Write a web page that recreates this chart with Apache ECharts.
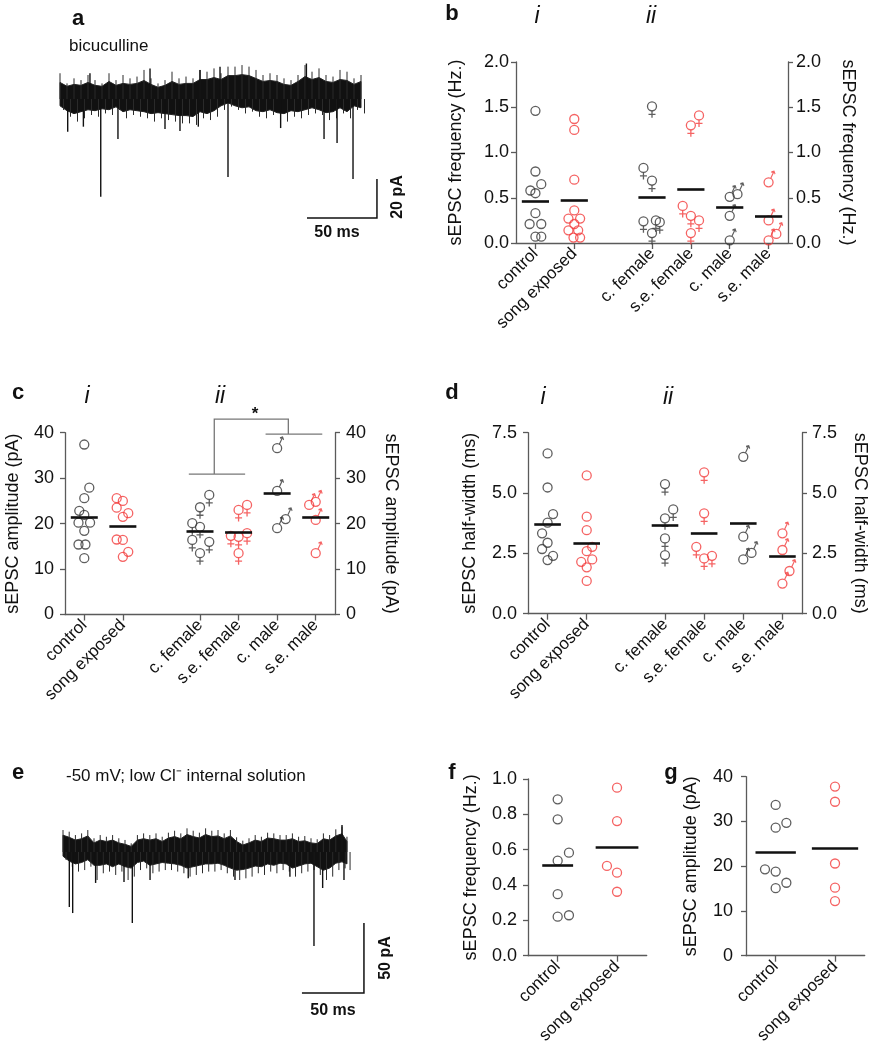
<!DOCTYPE html>
<html><head><meta charset="utf-8">
<script src="https://cdn.jsdelivr.net/npm/echarts@6/dist/echarts.min.js"></script>
<style>html,body{margin:0;padding:0;background:#fff}#c{width:869px;height:1050px}</style>
</head><body><div id="c"></div>
<script>
// ================= DATA =================
const catsII = ['control', 'song exposed', '', 'c. female', 's.e. female', 'c. male', 's.e. male'];
const catsI = ['control', 'song exposed'];

// panel b : sEPSC frequency (Hz.)
const bCtrl = [1.46, 0.79, 0.65, 0.58, 0.55, 0.33, 0.21, 0.21, 0.07, 0.07];
const bCtrlJ = [0, 0, 0.15, -0.13, 0, 0, -0.15, 0.15, 0, 0.15];
const bSong = [1.37, 1.25, 0.70, 0.36, 0.27, 0.27, 0.21, 0.14, 0.14, 0.06, 0.06];
const bSongJ = [0, 0, 0, 0, -0.15, 0.15, 0, -0.15, 0.1, -0.02, 0.15];
const bCF = [1.51, 0.83, 0.69, 0.24, 0.25, 0.23, 0.11];
const bCFJ = [0, -0.22, 0, -0.22, 0.1, 0.2, 0];
const bSF = [1.41, 1.30, 0.41, 0.30, 0.25, 0.11];
const bSFJ = [0.21, 0, -0.21, 0, 0.21, 0];
const bCM = [0.51, 0.54, 0.30, 0.03];
const bCMJ = [0, 0.2, 0, 0];
const bSM = [0.67, 0.25, 0.10, 0.03];
const bSMJ = [0, 0, 0.2, 0];
const bMean = [0.46, 0.47, null, 0.51, 0.59, 0.39, 0.30];

// panel c : sEPSC amplitude (pA)
const cCtrl = [37.4, 27.9, 25.6, 22.8, 21.9, 20.2, 20.2, 18.4, 15.4, 15.4, 12.4];
const cCtrlJ = [0, 0.13, 0, -0.13, 0, -0.15, 0.15, 0, -0.15, 0.03, 0];
const cSong = [25.6, 25.0, 23.5, 22.3, 21.5, 16.5, 16.4, 13.8, 12.7];
const cSongJ = [-0.16, 0, -0.16, 0.14, 0, -0.16, 0, 0.14, 0];
const cCF = [26.3, 23.6, 20.1, 19.3, 16.4, 16.0, 13.5];
const cCFJ = [0.24, 0, -0.2, 0, -0.2, 0.24, 0];
const cSF = [24.1, 23.0, 17.9, 17.3, 17.1, 13.5];
const cSFJ = [0.22, 0, 0.22, -0.2, 0, 0];
const cCM = [36.6, 27.2, 21.0, 19.0];
const cCMJ = [0, 0, 0.22, 0];
const cSM = [24.8, 24.1, 20.8, 13.5];
const cSMJ = [0, -0.17, 0, 0];
const cMean = [21.5, 19.5, null, 18.4, 18.1, 26.7, 21.5];
// significance bracket (category index, pA)
const cBracket = [
  [[2.71, 30.9], [4.17, 30.9]],
  [[3.37, 30.9], [3.37, 43.0], [5.29, 43.0], [5.29, 39.7]],
  [[4.70, 39.7], [6.17, 39.7]]
];

// panel d : sEPSC half-width (ms)
const dCtrl = [6.64, 5.23, 4.13, 3.77, 3.33, 2.94, 2.68, 2.40, 2.22];
const dCtrlJ = [0, 0, 0.14, 0, -0.14, 0, -0.14, 0.14, 0];
const dSong = [5.73, 4.02, 3.46, 2.77, 2.59, 2.25, 2.15, 1.92, 1.36];
const dSongJ = [0, 0, 0, 0.14, 0, 0.14, -0.14, 0, 0];
const dCF = [5.37, 4.32, 3.95, 3.12, 2.43];
const dCFJ = [0, 0.21, 0, 0, 0];
const dSF = [5.86, 4.16, 2.77, 2.40, 2.29];
const dSFJ = [0, 0, -0.2, 0.2, 0];
const dCM = [6.50, 3.19, 2.52, 2.25];
const dCMJ = [0, 0, 0.21, 0];
const dSM = [3.33, 2.64, 1.77, 1.25];
const dSMJ = [0, 0, 0.18, 0];
const dMean = [3.70, 2.91, null, 3.67, 3.35, 3.74, 2.39];

// panel f : sEPSC frequency (Hz.)
const fCtrl = [0.885, 0.772, 0.583, 0.538, 0.348, 0.229, 0.221];
const fCtrlJ = [0, 0, 0.19, 0, 0, 0.19, 0];
const fSong = [0.951, 0.762, 0.508, 0.470, 0.362];
const fSongJ = [0, 0, -0.17, 0, 0];
const fMean = [0.512, 0.611];

// panel g : sEPSC amplitude (pA)
const gCtrl = [33.7, 29.7, 28.6, 19.3, 18.8, 16.3, 15.1];
const gCtrlJ = [0, 0.18, 0, -0.18, 0, 0.18, 0];
const gSong = [37.8, 34.4, 20.6, 15.2, 12.2];
const gSongJ = [0, 0, 0, 0, 0];
const gMean = [23.2, 24.0];

// trace a (bicuculline): time (ms), dense core edges & outer extremes (pA), events [ms, pA]
const aT = [0, 5, 10, 15, 20, 25, 30, 35, 40, 45, 50, 55, 60, 65, 70, 75, 80, 85, 90, 95, 100, 105,
  110, 115, 120, 125, 130, 135, 140, 145, 150, 155, 160, 165, 170, 175, 180, 185, 190, 195, 200, 205, 210, 215];
const aHiC = [8.5, 6.5, 7.5, 7, 8.5, 7, 6.5, 9, 7, 8, 7.5, 8, 9.5, 7.5, 6, 7, 9, 7.5, 8, 8, 10, 10,
  11, 10, 12, 12, 12.5, 12, 10.5, 9, 9.5, 9, 7.5, 7, 9, 11.5, 10, 11, 9, 8.5, 10, 9.5, 7.5, 9];
const aLoC = [-3.5, -6, -7.5, -6.5, -5.5, -6, -5, -5.5, -4, -6.5, -5.5, -6, -6.5, -7.5, -7, -7.5, -8, -8.5, -8.5, -9, -6.5, -7.5,
  -6, -3.5, -2, -3.5, -4.5, -4, -6, -6.5, -5.5, -7, -7.5, -6, -6.5, -5.5, -4.5, -5.5, -7, -6.5, -4.5, -6.5, -3.5, -4.5];
const aHiX = [13.2, 8.0, 10.6, 9.7, 12.3, 9.7, 8.0, 13.2, 9.7, 12.3, 10.6, 11.5, 14.9, 10.6, 8.0, 9.7, 14.0, 10.6, 11.5, 10.6, 14.9, 14.0,
  15.7, 13.2, 16.6, 16.6, 17.4, 16.6, 14.9, 12.3, 13.2, 12.3, 10.6, 9.7, 12.3, 17.4, 14.0, 15.7, 12.3, 11.5, 14.9, 14.0, 10.6, 12.3];
const aLoX = [-5.6, -9.1, -11.6, -9.9, -8.2, -9.1, -7.4, -8.2, -5.6, -9.9, -8.2, -9.1, -9.9, -11.6, -9.9, -10.8, -11.6, -12.5, -12.5, -13.3, -9.9, -10.8,
  -9.1, -5.6, -3.9, -5.6, -7.4, -6.5, -9.1, -9.9, -8.2, -10.8, -11.6, -9.1, -9.9, -8.2, -7.4, -8.2, -10.8, -9.9, -7.4, -9.9, -5.6, -7.4];
const aEvents = [[5.5, -16.8], [16.7, -14.2], [29.1, -50.1], [41.4, -20.5], [75, -15.4], [85.7, -16.4], [98.8, -14.2],
  [120, -40.0], [157.6, -14.9], [188.6, -20.5], [197.9, -22.6], [209.3, -41.0],
  [21.4, 13.2], [64.3, 15.7], [100, 14.9], [114.3, 16.6], [176, 18.2]];

// trace e (-50 mV, low Cl- internal)
const eT = [0, 5, 10, 15, 20, 25, 30, 35, 40, 45, 50, 55, 60, 65, 70, 75, 80, 85, 90, 95, 100, 105, 110,
  115, 120, 125, 130, 135, 140, 145, 150, 155, 160, 165, 170, 175, 180, 185, 190, 195, 200, 205, 210, 215, 220, 225, 229];
const eHiC = [12, 10.5, 8.5, 9.5, 11.5, 6.5, 8.5, 7.5, 8.5, 6.5, 5.5, 4, 8.5, 9.5, 8.5, 9.5, 7.5, 10, 11, 9.5, 12.5, 11, 10,
  12.5, 11, 11.5, 9.5, 11.5, 7.5, 5, 6.5, 8.5, 7.5, 10, 9.5, 8.5, 8.5, 9.5, 7.5, 8, 6.5, 6, 9.5, 8.5, 11.5, 13, 7.5];
const eLoC = [-3, -6.5, -8.5, -7.5, -5.5, -9.5, -9.5, -8.5, -10.5, -8.5, -10.5, -11.5, -7.5, -6.5, -9.5, -8.5, -7.5, -8, -8.5, -9.5, -11.5, -10.5, -9.5,
  -8.5, -8.5, -8, -9.5, -11.5, -13, -12.5, -11.5, -10, -10.5, -8.5, -9.5, -8, -8.5, -11.5, -10, -8.5, -8, -10.5, -13, -11.5, -8, -7, -8.5];
const eHiX = [15.7, 14.5, 12.1, 13.3, 15.7, 9.8, 12.1, 10.9, 12.1, 9.8, 8.6, 6.2, 12.1, 13.3, 12.1, 13.3, 10.9, 13.8, 15.2, 13.3, 16.9, 15.2, 13.8,
  16.9, 15.2, 15.7, 13.3, 15.7, 10.5, 8.1, 9.8, 12.1, 10.9, 13.8, 13.3, 12.1, 12.1, 13.3, 10.9, 11.4, 9.8, 9.1, 13.3, 12.1, 16.2, 18.1, 10.9];
const eLoX = [-5.7, -10.5, -14.0, -12.9, -10.5, -20.0, -15.2, -14.0, -16.4, -14.0, -20.0, -17.6, -12.9, -11.7, -15.2, -14.0, -12.9, -12.9, -14.0, -15.2, -17.6, -16.4, -15.2,
  -14.0, -14.0, -12.9, -15.2, -17.6, -20.0, -18.8, -17.6, -15.2, -16.4, -14.0, -15.2, -12.9, -14.0, -17.6, -15.2, -14.0, -12.9, -16.4, -20.0, -17.6, -12.9, -11.7, -12.9];
const eEvents = [[5.1, -39.3], [7.8, -43.6], [26.3, -22.1], [49.2, -21.4], [55.9, -50.7], [70.2, -20], [101, -18.8],
  [138.7, -20], [183, -17.6], [202.4, -67.1], [209.4, -25.7], [226.6, -20.0], [225, 19.3]];

// scale bars (data units: ms, pA)
const aBar = { t: 176.4, y: -61, ms: 50, pA: 20 };
const eBar = { t: 192.7, y: -100.7, ms: 50, pA: 50 };

// ================= STYLE / HELPERS =================
const FF = 'Arial, "Liberation Sans", sans-serif';
const AX = '#5a5a5a';
const K = '#363636', R = '#f23c3c';
// sex glyph attachments (drawn on top of a circle marker)
const FEM = 'path://M0,0L0,7M-3.5,3.5L3.5,3.5';
const MAL = 'path://M2.2,-4L5.5,-11M2.8,-10.2L5.5,-11L6.5,-8.2';

const grids = [
  { left: 60, top: 60, width: 319.2, height: 179.4 },     // 0 trace a
  { left: 516, top: 62, width: 272, height: 181 },        // 1 b
  { left: 65, top: 432.7, width: 270, height: 181.8 },    // 2 c
  { left: 528, top: 432.7, width: 274, height: 181 },     // 3 d
  { left: 63, top: 824, width: 303.8, height: 182 },      // 4 trace e
  { left: 528, top: 779, width: 118.7, height: 176.7 },   // 5 f
  { left: 746, top: 776.7, width: 118.7, height: 179 }    // 6 g
].map(g => Object.assign({ outerBoundsMode: 'none', containLabel: false }, g));

function catAxis(grid, cats) {
  return {
    type: 'category', gridIndex: grid, data: cats, boundaryGap: true, position: 'bottom',
    axisLine: { show: true, onZero: false, lineStyle: { color: AX, width: 1.3 } },
    axisTick: { show: true, alignWithLabel: true, length: 6, interval: (i, v) => v !== '', lineStyle: { color: AX, width: 1.3 } },
    axisLabel: { interval: 0, rotate: 45, fontSize: 17, color: '#111', fontFamily: FF, margin: 8 },
    splitLine: { show: false }
  };
}
function hidAxis(grid, min, max) {
  return { type: 'value', gridIndex: grid, min, max, show: false, axisLine: { onZero: false }, splitLine: { show: false } };
}
function valAxis(grid, pos, min, max, step, dec, name, gap, margin) {
  return {
    type: 'value', gridIndex: grid, position: pos, min, max, interval: step,
    name, nameLocation: 'middle', nameGap: gap, nameRotate: pos === 'left' ? 90 : -90, nameMoveOverlap: false,
    nameTextStyle: { fontSize: 18, color: '#111', fontFamily: FF },
    axisLine: { show: true, onZero: false, lineStyle: { color: AX, width: 1.3 } },
    axisTick: { show: true, length: 5, lineStyle: { color: AX, width: 1.3 } },
    axisLabel: { fontSize: 18, color: '#111', fontFamily: FF, margin, formatter: v => v.toFixed(dec) },
    splitLine: { show: false }
  };
}

const xAxes = [
  hidAxis(0, 0, 228),                 // 0 a
  catAxis(1, catsII), hidAxis(1, -0.5, 6.5),   // 1,2 b
  catAxis(2, catsII), hidAxis(2, -0.5, 6.5),   // 3,4 c
  catAxis(3, catsII), hidAxis(3, -0.5, 6.5),   // 5,6 d
  hidAxis(4, 0, 245),                 // 7 e
  catAxis(5, catsI), hidAxis(5, -0.5, 1.5),    // 8,9 f
  catAxis(6, catsI), hidAxis(6, -0.5, 1.5)     // 10,11 g
];
const yAxes = [
  hidAxis(0, -72, 20),                                                               // 0 a
  valAxis(1, 'left', 0, 2, 0.5, 1, 'sEPSC frequency (Hz.)', 51, 7),                  // 1
  valAxis(1, 'right', 0, 2, 0.5, 1, 'sEPSC frequency (Hz.)', 51, 8),                 // 2
  valAxis(2, 'left', 0, 40, 10, 0, 'sEPSC amplitude (pA)', 43, 11),                  // 3
  valAxis(2, 'right', 0, 40, 10, 0, 'sEPSC amplitude (pA)', 47, 11),                 // 4
  valAxis(3, 'left', 0, 7.5, 2.5, 1, 'sEPSC half-width (ms)', 49, 11),               // 5
  valAxis(3, 'right', 0, 7.5, 2.5, 1, 'sEPSC half-width (ms)', 49, 10),              // 6
  hidAxis(4, -110, 20),                                                              // 7 e
  valAxis(5, 'left', 0, 1, 0.2, 1, 'sEPSC frequency (Hz.)', 48, 11),                 // 8 f
  valAxis(6, 'left', 0, 40, 10, 0, 'sEPSC amplitude (pA)', 46, 13)                   // 9 g
];

const series = [];
function scat(xi, yi, idx, vals, jit, color, s) {
  const data = vals.map((v, i) => [idx + jit[i], v]);
  const base = { type: 'scatter', xAxisIndex: xi, yAxisIndex: yi, silent: true, clip: false, z: 3, data,
    itemStyle: { color: 'rgba(0,0,0,0)', borderColor: color, borderWidth: 1.3 }, emphasis: { disabled: true } };
  series.push(Object.assign({ symbol: 'circle', symbolSize: 9 }, base));
  if (s === 'f') series.push(Object.assign({ symbol: FEM, symbolSize: [7, 7], symbolOffset: [0, 8] }, base));
  if (s === 'm') series.push(Object.assign({ symbol: MAL, symbolSize: [4.3, 7], symbolOffset: [4.35, -7.5] }, base));
}
function means(xi, yi, m, hw) {
  const data = [];
  m.forEach((v, i) => {
    if (v == null) return;
    const h = Array.isArray(hw) ? hw[i] : hw;
    data.push({ coords: [[i - h, v], [i + h, v]] });
  });
  series.push({ type: 'lines', coordinateSystem: 'cartesian2d', xAxisIndex: xi, yAxisIndex: yi, silent: true, clip: false, z: 4,
    data, lineStyle: { color: '#111', width: 2.6, opacity: 1 } });
}
function polyLines(xi, yi, list, color, width) {
  series.push({ type: 'lines', coordinateSystem: 'cartesian2d', polyline: true, xAxisIndex: xi, yAxisIndex: yi, silent: true, clip: false, z: 4,
    data: list.map(c => ({ coords: c })), lineStyle: { color, width, opacity: 1 } });
}
function trace(xi, yi, t, hiC, loC, hiX, loX, ev, bar) {
  series.push({
    type: 'custom', coordinateSystem: 'cartesian2d', xAxisIndex: xi, yAxisIndex: yi, silent: true, clip: false,
    data: [[t[0], hiC[0]]],
    renderItem: (p, api) => {
      const pts = [];
      t.forEach((tt, i) => pts.push(api.coord([tt, hiC[i]])));
      for (let i = t.length - 1; i >= 0; i--) pts.push(api.coord([t[i], loC[i]]));
      return { type: 'polygon', shape: { points: pts }, style: { fill: '#111', stroke: '#222', lineWidth: 1 } };
    }
  });
  // fringe hairlines to the outer extremes
  const fr = [];
  t.forEach((tt, i) => { fr.push([[tt, 0], [tt, hiX[i]]]); fr.push([[tt + 2.5, 0], [tt + 2.5, loX[i]]]); });
  polyLines(xi, yi, fr, '#2a2a2a', 1);
  polyLines(xi, yi, ev.map(e => [[e[0], 0], [e[0], e[1]]]), '#111', 1.4);
  polyLines(xi, yi, [[[bar.t, bar.y], [bar.t + bar.ms, bar.y], [bar.t + bar.ms, bar.y + bar.pA]]], '#111', 1.5);
}

// panel b
scat(2, 1, 0, bCtrl, bCtrlJ, K, 'c');
scat(2, 1, 1, bSong, bSongJ, R, 'c');
scat(2, 1, 3, bCF, bCFJ, K, 'f');
scat(2, 1, 4, bSF, bSFJ, R, 'f');
scat(2, 1, 5, bCM, bCMJ, K, 'm');
scat(2, 1, 6, bSM, bSMJ, R, 'm');
means(2, 1, bMean, 0.35);
// panel c
scat(4, 3, 0, cCtrl, cCtrlJ, K, 'c');
scat(4, 3, 1, cSong, cSongJ, R, 'c');
scat(4, 3, 3, cCF, cCFJ, K, 'f');
scat(4, 3, 4, cSF, cSFJ, R, 'f');
scat(4, 3, 5, cCM, cCMJ, K, 'm');
scat(4, 3, 6, cSM, cSMJ, R, 'm');
means(4, 3, cMean, 0.35);
polyLines(4, 3, cBracket, '#777', 1.3);
// panel d
scat(6, 5, 0, dCtrl, dCtrlJ, K, 'c');
scat(6, 5, 1, dSong, dSongJ, R, 'c');
scat(6, 5, 3, dCF, dCFJ, K, 'f');
scat(6, 5, 4, dSF, dSFJ, R, 'f');
scat(6, 5, 5, dCM, dCMJ, K, 'm');
scat(6, 5, 6, dSM, dSMJ, R, 'm');
means(6, 5, dMean, 0.34);
// panel f
scat(9, 8, 0, fCtrl, fCtrlJ, K, 'c');
scat(9, 8, 1, fSong, fSongJ, R, 'c');
means(9, 8, fMean, [0.26, 0.36]);
// panel g
scat(11, 9, 0, gCtrl, gCtrlJ, K, 'c');
scat(11, 9, 1, gSong, gSongJ, R, 'c');
means(11, 9, gMean, [0.34, 0.39]);
// traces
trace(0, 0, aT, aHiC, aLoC, aHiX, aLoX, aEvents, aBar);
trace(7, 7, eT, eHiC, eLoC, eHiX, eLoX, eEvents, eBar);

// texts
function T(text, x, y, font, align, rot) {
  return { type: 'text', x, y, rotation: rot || 0, silent: true, z: 10,
    style: { text, font, fill: '#111', textAlign: align || 'center', textVerticalAlign: 'middle' } };
}
const BOLD = 'bold 22px ' + FF, IT = 'italic 23px ' + FF;
const graphic = [
  T('a', 78, 19, BOLD), T('bicuculline', 69, 46, '17px ' + FF, 'left'),
  T('b', 452, 14, BOLD), T('i', 537, 17, IT), T('ii', 651, 17, IT),
  T('c', 18, 393, BOLD), T('i', 87, 397, IT), T('ii', 220, 397, IT), T('*', 255, 414, 'bold 17px ' + FF),
  T('d', 452, 393, BOLD), T('i', 543, 398, IT), T('ii', 668, 398, IT),
  T('e', 18, 773, BOLD), T('-50 mV; low Cl\u207B internal solution', 66, 776, '17px ' + FF, 'left'),
  T('f', 452, 773, BOLD), T('g', 671, 773, BOLD),
  T('50 ms', 337, 233, 'bold 16px ' + FF), T('20 pA', 398, 197, 'bold 16px ' + FF, 'center', Math.PI / 2),
  T('50 ms', 333, 1011, 'bold 16px ' + FF), T('50 pA', 386, 958, 'bold 16px ' + FF, 'center', Math.PI / 2)
];

const chart = echarts.init(document.getElementById('c'), null, { renderer: 'canvas' });
chart.setOption({
  animation: false, backgroundColor: '#fff', textStyle: { fontFamily: FF },
  grid: grids, xAxis: xAxes, yAxis: yAxes, series, graphic
});
</script></body></html>
